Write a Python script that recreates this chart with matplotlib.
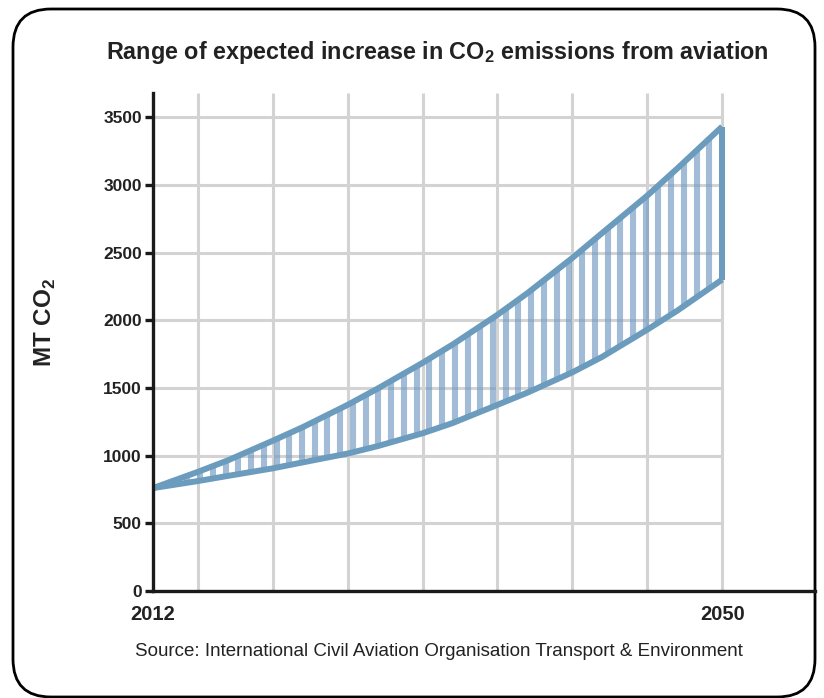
import numpy as np
import matplotlib
matplotlib.use("Agg")
import matplotlib.pyplot as plt
from matplotlib.patches import FancyBboxPatch

plt.rcParams["font.family"] = ["Liberation Sans", "DejaVu Sans"]
plt.rcParams["mathtext.fontset"] = "custom"
plt.rcParams["mathtext.rm"] = "Liberation Sans"
plt.rcParams["mathtext.bf"] = "Liberation Sans:bold"

# Projected aviation CO2 emissions (MT), low and high scenarios
years = [2012, 2015, 2017, 2020, 2022, 2025, 2027, 2030, 2032,
         2035, 2037, 2040, 2042, 2045, 2047, 2050]
upper = [760, 880, 965, 1110, 1210, 1375, 1495, 1685, 1820,
         2040, 2200, 2460, 2645, 2920, 3120, 3430]
lower = [760, 812, 850, 906, 950, 1015, 1070, 1165, 1240,
         1375, 1465, 1615, 1730, 1930, 2070, 2300]

y_ticks = [0, 500, 1000, 1500, 2000, 2500, 3000, 3500]
x_ticks = [2012, 2050]
grid_years = [2015, 2020, 2025, 2030, 2035, 2040, 2045, 2050]

W, H = 824, 698
fig = plt.figure(figsize=(W / 100, H / 100), dpi=100)

# rounded frame around the whole graphic
bg = fig.add_axes([0, 0, 1, 1], zorder=-5)
bg.set_xlim(0, W)
bg.set_ylim(H, 0)
bg.axis("off")
bg.add_patch(FancyBboxPatch((13, 9), 802, 688,
                            boxstyle="round,pad=0,rounding_size=38",
                            fill=False, ec="black", lw=2.0))

ax = fig.add_axes([153 / W, (H - 591) / H, (815 - 153) / W, (591 - 93) / H])
ax.patch.set_alpha(0)
ax.set_xlim(2012, 2056.2)
ax.set_ylim(0, 3678)

grid_col = "#d3d3d3"
ax.vlines(grid_years, 0, 3678, color=grid_col, lw=2.2, zorder=1)
ax.hlines(y_ticks[1:], 2012, 2050, color=grid_col, lw=2.2, zorder=1)

line_col = "#6b9cbd"
stripe_col = "#7099c2"

# vertical stripes filling the band between the two scenarios
xs = np.arange(2050, 2012, -0.85)[1:]
ax.vlines(xs, np.interp(xs, years, lower), np.interp(xs, years, upper),
          color=stripe_col, lw=4.4, alpha=0.65, zorder=2, capstyle="butt")

ax.plot(years, upper, color=line_col, lw=4.3, zorder=3, solid_capstyle="butt")
ax.plot(years, lower, color=line_col, lw=4.3, zorder=3, solid_capstyle="butt")
ax.vlines(years[-1], lower[-1], upper[-1], color=line_col, lw=4.3, zorder=3)

for s in ["top", "right"]:
    ax.spines[s].set_visible(False)
for s in ["left", "bottom"]:
    ax.spines[s].set_linewidth(2.4)
    ax.spines[s].set_color("#1a1a1a")
    ax.spines[s].set_zorder(4)

ax.set_yticks(y_ticks)
ax.set_yticklabels([str(v) for v in y_ticks], fontsize=12.5, fontweight="bold",
                   color="#222222")
ax.tick_params(axis="y", length=6, width=2.4, color="#1a1a1a", pad=2)
ax.set_xticks(x_ticks)
ax.set_xticklabels([str(v) for v in x_ticks], fontsize=14.5, fontweight="bold",
                   color="#222222")
ax.tick_params(axis="x", length=0, pad=10)

fig.text(437 / W, 1 - 52 / H,
         r"Range of expected increase in CO$_\mathbf{2}$ emissions from aviation",
         ha="center", va="center", fontsize=16.8, fontweight="bold", color="#222222")
fig.text(45 / W, 1 - 322 / H, r"MT CO$_\mathbf{2}$", rotation=90,
         ha="center", va="center", fontsize=17.5, fontweight="bold", color="#222222")
fig.text(439 / W, 1 - 651 / H,
         "Source: International Civil Aviation Organisation Transport & Environment",
         ha="center", va="center", fontsize=13.5, color="#222222")

fig.savefig("out.png", dpi=100)
